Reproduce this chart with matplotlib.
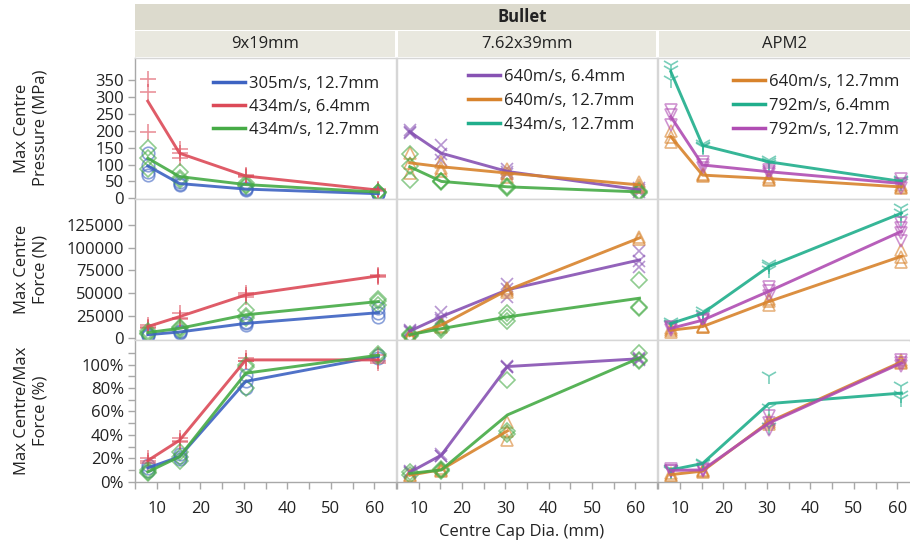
import numpy as np
import matplotlib.pyplot as plt
from matplotlib.lines import Line2D
from matplotlib.patches import Rectangle
from matplotlib.ticker import MultipleLocator, FuncFormatter

plt.rcParams['font.family'] = ['Open Sans', 'DejaVu Sans']
plt.rcParams['font.size'] = 12

# centre cap diameters (mm)
cap_dia = [7.94, 15.24, 30.48, 60.96]
bullets = ['9x19mm', '7.62x39mm', 'APM2']
row_labels = ['Max Centre\nPressure (MPa)', 'Max Centre\nForce (N)', 'Max Centre/Max\nForce (%)']
y_ticks = [list(range(0, 351, 50)), list(range(0, 125001, 25000)), list(range(0, 101, 20))]
y_minor = [[], [], list(range(10, 121, 20))]

# individual test values at each cap diameter
# Max centre pressure (MPa)
p_9x19 = {
    '305m/s, 12.7mm': [[135, 100, 78, 70], [48, 43, 40], [30, 27, 25], [16, 13, 12]],
    '434m/s, 6.4mm': [[352, 313, 197], [147, 135, 118], [70, 66, 62], [27, 24, 22]],
    '434m/s, 12.7mm': [[148, 120, 88], [78, 60, 55], [45, 40, 37], [20, 18, 17]],
}
p_762 = {
    '640m/s, 6.4mm': [[202, 196, 192], [158, 130, 112], [88, 78, 72], [32, 24, 20]],
    '640m/s, 12.7mm': [[135, 105, 75], [108, 90, 82], [88, 74, 62], [48, 38, 33]],
    '434m/s, 12.7mm': [[130, 95, 55], [52, 50, 48], [37, 34, 31], [21, 19, 17]],
}
p_apm2 = {
    '640m/s, 12.7mm': [[198, 182, 168], [72, 68, 66], [62, 58, 55], [38, 33, 30]],
    '792m/s, 6.4mm': [[395, 380, 350], [162, 156, 152], [114, 108, 102], [55, 50, 45]],
    '792m/s, 12.7mm': [[262, 245, 218], [108, 98, 90], [85, 78, 73], [58, 42, 32]],
}

# Max centre force (N)
f_9x19 = {
    '305m/s, 12.7mm': [[5000, 4000, 3000], [8000, 7000, 6000], [18000, 16500, 15000], [33000, 28000, 24000]],
    '434m/s, 6.4mm': [[15000, 13000, 11000], [28000, 23000, 21000], [50000, 48000, 46000], [70000, 69000, 68000]],
    '434m/s, 12.7mm': [[8000, 6000, 5000], [13000, 11000, 9000], [31000, 25000, 22000], [44000, 41000, 37000]],
}
f_762 = {
    '640m/s, 6.4mm': [[9000, 8000, 7000], [29000, 23000, 20000], [60000, 55000, 46000], [96000, 85000, 79000]],
    '640m/s, 12.7mm': [[4000, 3000, 2000], [17000, 14000, 13000], [56000, 53000, 51000], [112000, 110000]],
    '434m/s, 12.7mm': [[5000, 4000, 3000], [12000, 11000, 9000], [28000, 24000, 19000], [65000, 35000, 33000]],
}
f_apm2 = {
    '640m/s, 12.7mm': [[11000, 9000, 7000], [14000, 13000, 12000], [44000, 41000, 37000], [98000, 90000, 84000]],
    '792m/s, 6.4mm': [[18000, 16000, 15000], [30000, 27000, 26000], [82000, 80000, 76000], [144000, 138000, 133000]],
    '792m/s, 12.7mm': [[13000, 11000, 9000], [21000, 20000, 19000], [57000, 52000, 47000], [127000, 122000, 116000, 108000]],
}

# Max centre / max force (%)
r_9x19 = {
    '305m/s, 12.7mm': [[14, 12, 9], [24, 21, 19], [91, 86, 80], [108, 106]],
    '434m/s, 6.4mm': [[20, 18, 16], [37, 35, 34], [106, 103, 103], [108, 101, 103]],
    '434m/s, 12.7mm': [[10, 8, 7], [25, 21, 18], [100, 98, 80], [109, 107]],
}
r_762 = {
    '640m/s, 6.4mm': [[9, 8, 7], [24, 22, 22], [99, 98, 98], [106, 105, 104]],
    '640m/s, 12.7mm': [[6, 5], [12, 10, 9], [51, 43, 36]],
    '434m/s, 12.7mm': [[8, 6], [11, 10, 9], [87, 43, 41], [110, 104, 103]],
}
r_apm2 = {
    '640m/s, 12.7mm': [[7, 6, 5], [10, 9, 8], [53, 51, 49], [104, 102, 101]],
    '792m/s, 6.4mm': [[11, 10, 9], [16, 15], [90, 63, 47], [82, 74, 71]],
    '792m/s, 12.7mm': [[11, 9, 9], [11, 10, 9], [56, 50, 44], [104, 101, 99]],
}

colors = {
    '305m/s, 12.7mm': '#3d63c2',
    '434m/s, 6.4mm': '#dc4a58',
    '434m/s, 12.7mm': '#46ab46',
    '640m/s, 6.4mm': '#8752b3',
    '640m/s, 12.7mm': '#d8832c',
    '792m/s, 6.4mm': '#20ae8c',
    '792m/s, 12.7mm': '#b04db3',
}
markers = {
    '305m/s, 12.7mm': 'o',
    '434m/s, 6.4mm': '+',
    '434m/s, 12.7mm': 'D',
    '640m/s, 6.4mm': 'x',
    '640m/s, 12.7mm': '^',
    '792m/s, 6.4mm': '1',
    '792m/s, 12.7mm': 'v',
}
msizes = {'o': 9, '+': 12, 'D': 8, 'x': 9, '^': 9, '1': 12, 'v': 9}
# legend in the middle panel shows this series in teal
legend_override = {1: {'434m/s, 12.7mm': '#20ae8c'}}

data = [[p_9x19, p_762, p_apm2], [f_9x19, f_762, f_apm2], [r_9x19, r_762, r_apm2]]

W, H = 910, 544
fig = plt.figure(figsize=(W / 100, H / 100), dpi=100)

col_px = [(135, 396), (397, 657), (658, 909)]
row_px = [(58, 198.5), (199, 339.5), (340, 482)]
xlims = [(5, 65), (5, 65), (5, 62.7)]
ylims = [(-0.5, 415), (-1300, 154000), (-0.3, 121)]
leg_pos = [(0.299, 0.875), (0.273, 0.925), (0.299, 0.889)]
leg_space = [0.42, 0.5, 0.5]
txt = '#222222'
edge = '#d6d6d6'
axis_c = '#a8a8a8'

for r, (t, b) in enumerate(row_px):
    for c, (l, rr) in enumerate(col_px):
        ax = fig.add_axes([l / W, 1 - b / H, (rr - l) / W, (b - t) / H])
        panel = data[r][c]
        for name, samples in panel.items():
            col = colors[name]
            m = markers[name]
            for x, vals in zip(cap_dia, samples):
                ax.plot([x] * len(vals), vals, ls='none', marker=m, mfc='none', mec=col,
                        ms=msizes[m], mew=1.2, alpha=0.6, zorder=2)
            means = [np.mean(v) for v in samples]
            ax.plot(cap_dia[:len(samples)], means, color=col, lw=2.1, alpha=0.9, zorder=3)
        ax.set_xlim(*xlims[c])
        ax.set_ylim(*ylims[r])
        for s in ax.spines.values():
            s.set_color(edge)
            s.set_linewidth(1)
        if c == 2:
            ax.spines['right'].set_visible(False)
        ax.xaxis.set_major_locator(MultipleLocator(10))
        ax.xaxis.set_minor_locator(MultipleLocator(5))
        if r == 2:
            ax.spines['bottom'].set_color(axis_c)
            ax.tick_params(axis='x', which='both', length=5, width=1, color=axis_c,
                           labelsize=12, labelcolor=txt, pad=9)
        else:
            ax.tick_params(axis='x', which='both', bottom=False, labelbottom=False)
        ax.set_yticks(y_ticks[r])
        ax.set_yticks(y_minor[r], minor=True)
        if r == 1:
            ax.yaxis.set_major_formatter(FuncFormatter(lambda v, p: f'{v:.0f}'))
        elif r == 2:
            ax.yaxis.set_major_formatter(FuncFormatter(lambda v, p: f'{v:.0f}%'))
        if c == 0:
            ax.spines['left'].set_color(axis_c)
            ax.tick_params(axis='y', which='both', length=5, width=1, color=axis_c,
                           labelsize=12, labelcolor=txt, pad=3)
        else:
            ax.tick_params(axis='y', which='both', left=False, labelleft=False)
        if r == 0:
            over = legend_override.get(c, {})
            handles = [Line2D([], [], color=over.get(n, colors[n]), lw=2.5) for n in panel]
            ax.legend(handles, list(panel), loc='upper left', bbox_to_anchor=leg_pos[c],
                      frameon=False, borderpad=0, borderaxespad=0, handlelength=1.9,
                      handletextpad=0.25, labelspacing=leg_space[c], fontsize=12,
                      labelcolor=txt)

# strip headers
fig.add_artist(Rectangle((135 / W, 1 - 29.5 / H), (910 - 135) / W, 25.5 / H,
                         transform=fig.transFigure, fc='#dcdacd', ec='none'))
fig.text(522 / W, 1 - 17 / H, 'Bullet', weight='bold', ha='center', va='center', color=txt)
strip_px = [(135, 394.5), (397.5, 655.5), (658.5, 910)]
for (l, rr), name in zip(strip_px, bullets):
    fig.add_artist(Rectangle((l / W, 1 - 56.5 / H), (rr - l) / W, 25 / H,
                             transform=fig.transFigure, fc='#e9e8df', ec='none'))
    fig.text((l + rr) / 2 / W, 1 - 44 / H, name, ha='center', va='center', color=txt)

for (t, b), lab in zip(row_px, row_labels):
    fig.text(31 / W, 1 - (t + b) / 2 / H, lab, rotation=90, ha='center', va='center',
             multialignment='center', color=txt)
fig.text(522 / W, 1 - 532 / H, 'Centre Cap Dia. (mm)', ha='center', va='center', color=txt)

fig.savefig('out.png', dpi=100)
